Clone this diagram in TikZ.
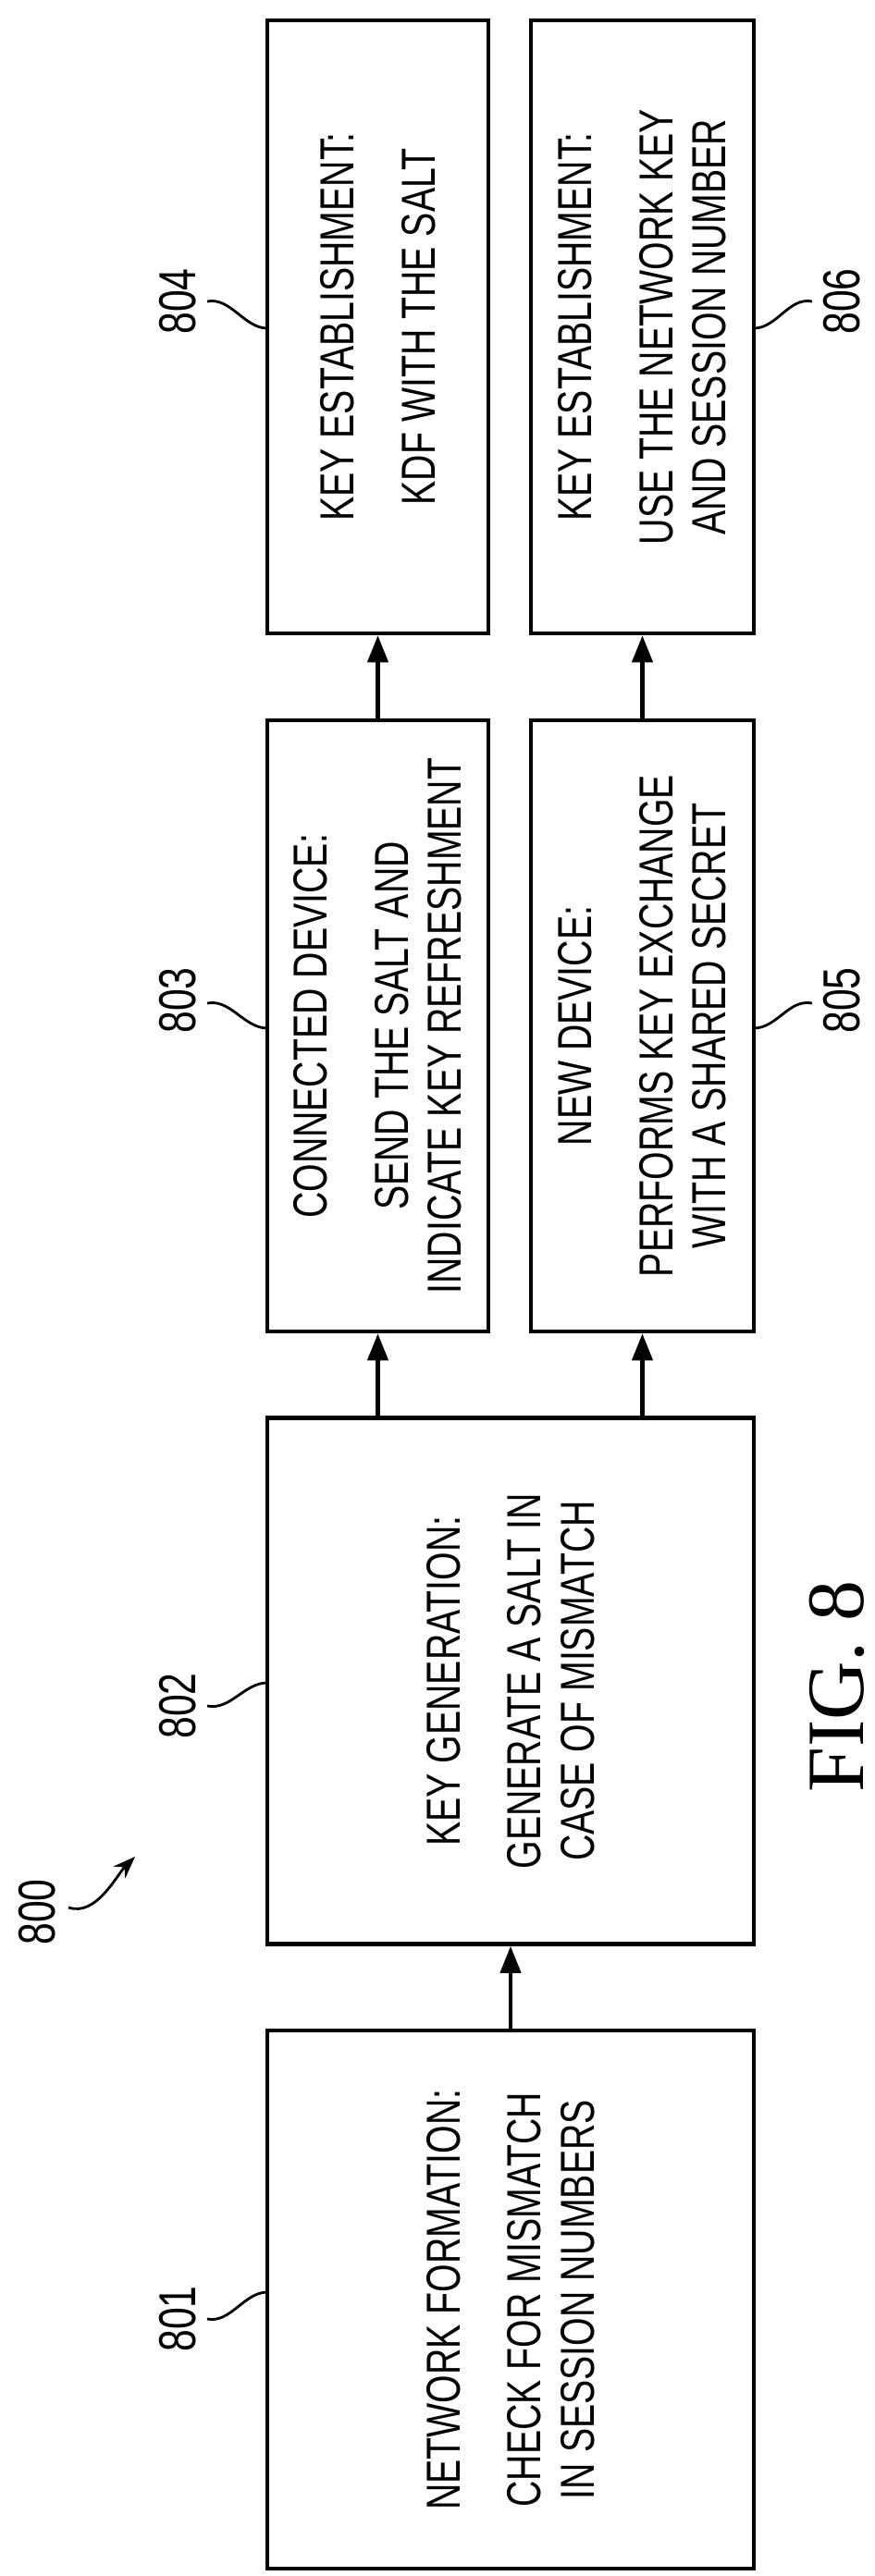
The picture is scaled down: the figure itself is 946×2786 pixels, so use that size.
\documentclass[tikz,border=0pt]{standalone}
\usepackage{fontspec}
\setmainfont{Liberation Sans}[FakeStretch=0.76]
\newfontfamily\figfont{Liberation Serif}
\usetikzlibrary{arrows.meta}

\begin{document}
\begin{tikzpicture}[
	x=0.1mm, y=-0.1mm,
	box/.style={
		draw, line width=1.3pt,
		rotate=90,
		align=center,
		inner sep=0pt,
		font=\fontsize{14.7}{16.4}\selectfont
	},
	lab/.style={
		rotate=90,
		inner sep=1pt,
		font=\fontsize{16}{18}\selectfont
	},
	flow/.style={
		line width=1.2pt,
		-{Triangle[length=2.9mm,width=2.2mm]}
	},
	squig/.style={
		line width=0.8pt
	}
	]

	\useasboundingbox (0,0) rectangle (946,2786);

	% boxes
	\node [box, minimum width=58.2mm, minimum height=52.6mm] (Form) at (552,2487)
		{NETWORK FORMATION:\\[3mm] CHECK FOR MISMATCH\\ IN SESSION NUMBERS};
	\node [box, minimum width=56.9mm, minimum height=52.6mm] (Gen) at (552,1818)
		{KEY GENERATION:\\[3mm] GENERATE A SALT IN\\ CASE OF MISMATCH};
	\node [box, minimum width=66.1mm, minimum height=23.9mm] (Conn) at (408.5,1109.5)
		{CONNECTED DEVICE:\\[3mm] SEND THE SALT AND\\ INDICATE KEY REFRESHMENT};
	\node [box, minimum width=66.1mm, minimum height=24.1mm] (New) at (694.5,1109.5)
		{NEW DEVICE:\\[3mm] PERFORMS KEY EXCHANGE\\ WITH A SHARED SECRET};
	\node [box, minimum width=66.3mm, minimum height=23.9mm] (EstSalt) at (408.5,353.5)
		{KEY ESTABLISHMENT:\\[3mm] KDF WITH THE SALT};
	\node [box, minimum width=66.3mm, minimum height=24.1mm] (EstKey) at (694.5,353.5)
		{KEY ESTABLISHMENT:\\[3mm] USE THE NETWORK KEY\\ AND SESSION NUMBER};

	% arrows
	\draw [flow] (Form.east) -- (Gen.west);
	\draw [flow] (Conn.west |- Gen.east) -- (Conn.west);
	\draw [flow] (New.west |- Gen.east) -- (New.west);
	\draw [flow] (Conn.east) -- (EstSalt.west);
	\draw [flow] (New.east) -- (EstKey.west);

	% reference numerals
	\node [lab] (L801) at (192,2508) {801};
	\node [lab] (L802) at (192,1845) {802};
	\node [lab] (L803) at (192,1082) {803};
	\node [lab] (L804) at (192,326) {804};
	\node [lab] (L805) at (910,1082) {805};
	\node [lab] (L806) at (910,326) {806};
	\node [lab] (L800) at (40,2068) {800};
	\node [rotate=90, font=\figfont\fontsize{25}{28}\selectfont] (Fig) at (905,1824) {FIG. 8};

	\coordinate (A801) at (289,2479);
	\coordinate (A802) at (289,1820);
	\coordinate (A803) at (289,1112);
	\coordinate (A804) at (289,355);
	\coordinate (A805) at (815,1112);
	\coordinate (A806) at (815,355);
	\coordinate (A800) at (146,2008);

	\draw [squig] (L801.south) ++(8,0) .. controls +(25,5) and +(-25,0) .. (A801);
	\draw [squig] (L802.south) ++(8,0) .. controls +(25,5) and +(-25,0) .. (A802);
	\draw [squig] (L803.south) ++(8,3) .. controls +(25,-5) and +(-25,0) .. (A803);
	\draw [squig] (L804.south) ++(8,0) .. controls +(25,-5) and +(-25,0) .. (A804);
	\draw [squig] (L805.north) ++(-8,3) .. controls +(-25,-5) and +(25,0) .. (A805);
	\draw [squig] (L806.north) ++(-8,0) .. controls +(-25,-5) and +(25,0) .. (A806);
	\draw [squig, -{Stealth[length=2.4mm,width=1.8mm]}] (L800.south) ++(10,-5)
		.. controls +(30,10) and +(-20,20) .. (A800);

\end{tikzpicture}
\end{document}
